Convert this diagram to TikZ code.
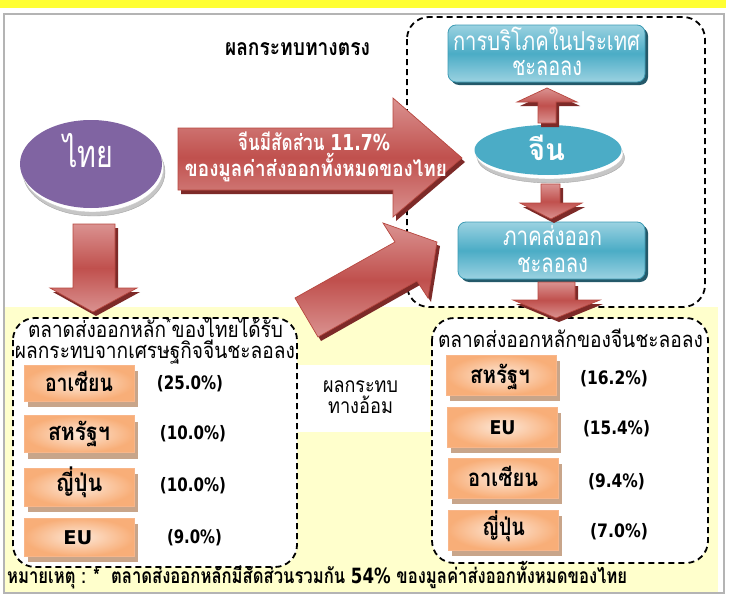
\documentclass[tikz,border=0pt]{standalone}
\usepackage{fontspec}
\setmainfont{Loma}[Script=Thai]
\newfontfamily\dvfont{DejaVu Sans}
\usepackage{graphicx}
\usetikzlibrary{shapes.geometric,shadows}
\newcommand\wfit[2]{\resizebox{#1}{\height}{#2}}
\newcommand\fsz[1]{\fontsize{#1}{#1}\selectfont}
\definecolor{topyellow}{HTML}{FFFF33}
\definecolor{paley}{HTML}{FFFFCC}
\definecolor{framegray}{HTML}{B4B4B4}
\definecolor{thaipurple}{HTML}{8064A2}
\definecolor{arrred}{HTML}{C0504D}
\definecolor{arrlight}{HTML}{DA9290}
\definecolor{arrdark}{HTML}{7D2A28}
\definecolor{arredge}{HTML}{B7473F}
\definecolor{cteal}{HTML}{4BACC6}
\definecolor{teallight}{HTML}{9BD2E1}
\definecolor{tealedge}{HTML}{3D9BB4}
\definecolor{tealdark}{HTML}{24596A}
\definecolor{orout}{HTML}{F8AE78}
\definecolor{orin}{HTML}{FDE8D8}
\definecolor{oredge}{HTML}{F8B68A}
\definecolor{orshadow}{HTML}{C8A58A}
\newcommand\blockarr[1]{\fill[redshade,shift={(3,4)}] #1; \draw[redarrow] #1;}
\tikzset{
  txt/.style={inner sep=0pt, anchor=base},
  wtxt/.style={txt, text=white},
  dashbox/.style={draw=black, fill=white, line width=1.8pt, dash pattern=on 6pt off 4pt, rounded corners=22pt},
  redarrow/.style={draw=arredge, line width=0.7pt, top color=arrlight, bottom color=arrlight, middle color=arrred},
  redshade/.style={fill=arrdark},
  tealbox/.style={rectangle, draw=tealedge, line width=0.8pt, rounded corners=8pt, top color=teallight, bottom color=teallight, middle color=cteal, inner sep=0pt, general shadow={fill=tealdark, shadow xshift=3pt, shadow yshift=-3pt}},
  orbox/.style={rectangle, draw=oredge, line width=0.8pt, inner color=orin, outer color=orout, minimum width=110pt, inner sep=0pt, general shadow={fill=orshadow, shadow xshift=4pt, shadow yshift=-6pt}},
  pct/.style={txt, font=\dvfont\bfseries\fsz{18.5}},
  lbl/.style={txt, font=\bfseries\fsz{24}},
  eu/.style={txt, font=\dvfont\bfseries\fsz{19}},
  disc/.style={ellipse, inner sep=0pt, general shadow={fill=gray!45, draw=gray!70, shadow xshift=3pt, shadow yshift=-8pt}, general shadow={fill=white, draw=gray!40, shadow xshift=1.5pt, shadow yshift=-4pt}},
}
\begin{document}
\begin{tikzpicture}[x=1pt,y=-1pt]
\useasboundingbox (0,0) rectangle (742,597);
\fill[white] (0,0) rectangle (742,597);
\fill[fill=topyellow] (0,0) rectangle (726,8);
\draw[framegray, line width=1.2pt] (4,14) rectangle (724,593);
\fill[fill=paley] (4.6,307) rectangle (718,592.4);
\fill[white] (297,365) rectangle (430,432);

% dashed groups
\draw[dashbox] (407,17) rectangle (705,307);
\draw[dashbox] (13,318) rectangle (297,567);
\draw[dashbox] (432,318) rectangle (708,563);

% main shapes
\node[disc, fill=thaipurple, minimum width=142pt, minimum height=88pt] (thai) at (91,164) {};
\node[disc, fill=cteal, minimum width=147pt, minimum height=50pt] (china) at (548,150) {};
\node[tealbox, minimum width=197pt, minimum height=57pt] (cons) at (546.5,53.5) {};
\node[tealbox, minimum width=187pt, minimum height=57pt] (expo) at (551.5,250.5) {};

% block arrows
\blockarr{(178,128) -- (393,128) -- (393,98) -- (462,158) -- (393,217) -- (393,190) -- (178,190) -- cycle}
\blockarr{(73,224) -- (115,224) -- (115,288) -- (137,288) -- (93,312) -- (50,288) -- (73,288) -- cycle}
\blockarr{(295,298) -- (395,242) -- (383,223) -- (437,242) -- (428,298) -- (417,281) -- (318,337) -- cycle}
\blockarr{(538,123) -- (538,102) -- (517,102) -- (547,88) -- (577,102) -- (556,102) -- (556,123) -- cycle}
\blockarr{(541,184) -- (560,184) -- (560,203) -- (582,203) -- (551,219) -- (520,203) -- (541,203) -- cycle}
\blockarr{(538,282) -- (575,282) -- (575,300) -- (600,300) -- (556,318) -- (513,300) -- (538,300) -- cycle}

% texts on top shapes
\node[wtxt, font=\fsz{38}] (thait) at (88,167) {\wfit{50pt}{ไทย}};
\node[wtxt, font=\bfseries\fsz{30}] (chinat) at (546.5,160) {\wfit{37pt}{จีน}};
\node[wtxt, font=\fsz{26}] (cons1) at (546.5,50) {\wfit{187pt}{การบริโภคในประเทศ}};
\node[wtxt, font=\fsz{26}] (cons2) at (547,75) {\wfit{70pt}{ชะลอลง}};
\node[wtxt, font=\fsz{26}] (expo1) at (552.5,245) {\wfit{99pt}{ภาคส่งออก}};
\node[wtxt, font=\fsz{26}] (expo2) at (552.5,272) {\wfit{71pt}{ชะลอลง}};
\node[txt, font=\bfseries\fsz{23}] (direct) at (297.5,55) {\wfit{145pt}{ผลกระทบทางตรง}};
\node[wtxt, font=\bfseries\fsz{22}] (ar1) at (314,150) {\wfit{152pt}{จีนมีสัดส่วน {\dvfont\bfseries 11.7\%}}};
\node[wtxt, font=\bfseries\fsz{22}] (ar2) at (316,176) {\wfit{262pt}{ของมูลค่าส่งออกทั้งหมดของไทย}};

% group titles
\node[txt, font=\fsz{22}] (lt1) at (155.5,337) {\wfit{255pt}{ตลาดส่งออกหลัก\textsuperscript{*}ของไทยได้รับ}};
\node[txt, font=\fsz{22}] (lt2) at (155,358) {\wfit{280pt}{ผลกระทบจากเศรษฐกิจจีนชะลอลง}};
\node[txt, font=\fsz{22}] (rt) at (570.5,347) {\wfit{265pt}{ตลาดส่งออกหลักของจีนชะลอลง}};
\node[txt, font=\fsz{21}] (ind1) at (360.5,392) {\wfit{75pt}{ผลกระทบ}};
\node[txt, font=\fsz{21}] (ind2) at (360.5,413) {\wfit{65pt}{ทางอ้อม}};

% left market boxes
\node[orbox, minimum height=36pt] (lb1) at (79,383) {};
\node[orbox, minimum height=37pt] (lb2) at (79,434) {};
\node[orbox, minimum height=38pt] (lb3) at (79,487) {};
\node[orbox, minimum height=38pt] (lb4) at (79,537) {};
\node[lbl] (lbt1) at (79,391) {\wfit{68pt}{อาเซียน}};
\node[lbl] (lbt2) at (79,440) {\wfit{62pt}{สหรัฐฯ}};
\node[lbl] (lbt3) at (79,491) {\wfit{47pt}{ญี่ปุ่น}};
\node[eu] (lbt4) at (78,544) {\wfit{29pt}{EU}};
\node[pct] (lp1) at (190,389) {\wfit{66pt}{(25.0\%)}};
\node[pct] (lp2) at (193,439) {\wfit{66pt}{(10.0\%)}};
\node[pct] (lp3) at (193,491) {\wfit{66pt}{(10.0\%)}};
\node[pct] (lp4) at (194.5,543) {\wfit{55pt}{(9.0\%)}};

% right market boxes
\node[orbox, minimum height=40pt] (rb1) at (501,375) {};
\node[orbox, minimum height=40pt] (rb2) at (502,427) {};
\node[orbox, minimum height=40pt] (rb3) at (503,478) {};
\node[orbox, minimum height=40pt] (rb4) at (503,530) {};
\node[lbl] (rbt1) at (500,383) {\wfit{60pt}{สหรัฐฯ}};
\node[eu] (rbt2) at (502.5,434) {\wfit{26pt}{EU}};
\node[lbl] (rbt3) at (503,486) {\wfit{70pt}{อาเซียน}};
\node[lbl] (rbt4) at (503.5,535) {\wfit{43pt}{ญี่ปุ่น}};
\node[pct] (rp1) at (614,384) {\wfit{68pt}{(16.2\%)}};
\node[pct] (rp2) at (616.5,434) {\wfit{67pt}{(15.4\%)}};
\node[pct] (rp3) at (616.5,487) {\wfit{57pt}{(9.4\%)}};
\node[pct] (rp4) at (619,537) {\wfit{58pt}{(7.0\%)}};

% note
\node[txt, anchor=base west, font=\bfseries\fsz{21}] (note) at (7,583) {\wfit{620pt}{หมายเหตุ : *\ \ ตลาดส่งออกหลักมีสัดส่วนรวมกัน {\dvfont\bfseries 54\%} ของมูลค่าส่งออกทั้งหมดของไทย}};
\end{tikzpicture}
\end{document}
